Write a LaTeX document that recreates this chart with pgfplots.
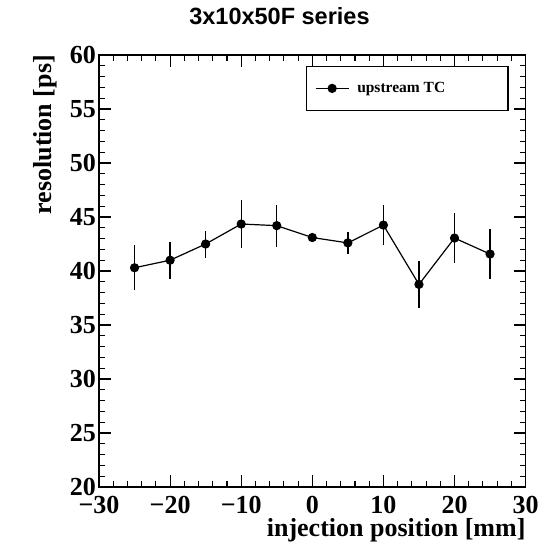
\documentclass[border=0pt]{standalone}
\usepackage{pgfplots}
\pgfplotsset{compat=1.18}
\usepackage{fontspec}
\setmainfont{Liberation Serif}
\newfontfamily\titlefont{Liberation Sans}
\pgfplotstableread{
x y e
-25 40.3 2.1
-20 41.0 1.7
-15 42.5 1.25
-10 44.35 2.2
-5 44.2 1.95
0 43.1 0.4
5 42.6 1.05
10 44.25 1.85
15 38.76 2.15
20 43.05 2.35
25 41.57 2.3
}\datatable
\begin{document}
\begin{tikzpicture}
\useasboundingbox (0,0) rectangle (551pt,549pt);
\begin{axis}[
  scale only axis,
  width=426.6pt, height=432pt,
  at={(99pt,62pt)}, anchor=south west,
  xmin=-30, xmax=30, ymin=20, ymax=60,
  xtick={-30,-20,...,30},
  xticklabels={−30,−20,−10,0,10,20,30},
  ytick={20,25,...,60},
  yticklabels={20,25,30,35,40,45,50,55,60},
  minor x tick num=4, minor y tick num=4,
  tick align=inside,
  major tick length=12pt, minor tick length=6pt,
  axis line style={line width=1.2pt},
  every tick/.style={black, line width=1.1pt},
  tick label style={font=\fontsize{26}{26}\selectfont\bfseries},
  yticklabel style={inner sep=2pt, xshift=-1pt},
  xticklabel style={inner sep=0pt, text depth=0pt, yshift=-9pt},
  legend style={draw=none, fill=none, at={(0.506,0.9227)}, anchor=west,
    inner xsep=0pt, font=\fontsize{15.5}{15.5}\selectfont\bfseries,
    /tikz/every odd column/.append style={column sep=6pt}},
  legend image code/.code={\draw[mark repeat=2,mark phase=2,#1] plot coordinates {(0pt,0pt) (16.5pt,0pt) (33pt,0pt)};},
]
\addplot[black, line width=1.2pt, mark=*, mark size=4pt,
  error bars/.cd, y dir=both, y explicit,
  error bar style={line width=1.4pt}, error mark=none]
  table[x=x, y=y, y error=e] {\datatable};
\addlegendentry{upstream TC}
\draw[line width=1.4pt] (rel axis cs:0.487,0.974) rectangle (rel axis cs:0.959,0.872);
\end{axis}
\node[anchor=base, font=\titlefont\fontsize{23.5}{23.5}\selectfont\bfseries] at (279.5pt,524pt) {3x10x50F series};
\node[anchor=base east, inner sep=0pt, font=\fontsize{26}{26}\selectfont\bfseries] at (525.6pt,13pt) {injection position [mm]};
\node[anchor=base east, rotate=90, inner sep=0pt, font=\fontsize{26}{26}\selectfont\bfseries] at (51pt,494pt) {resolution [ps]};
\end{tikzpicture}
\end{document}
